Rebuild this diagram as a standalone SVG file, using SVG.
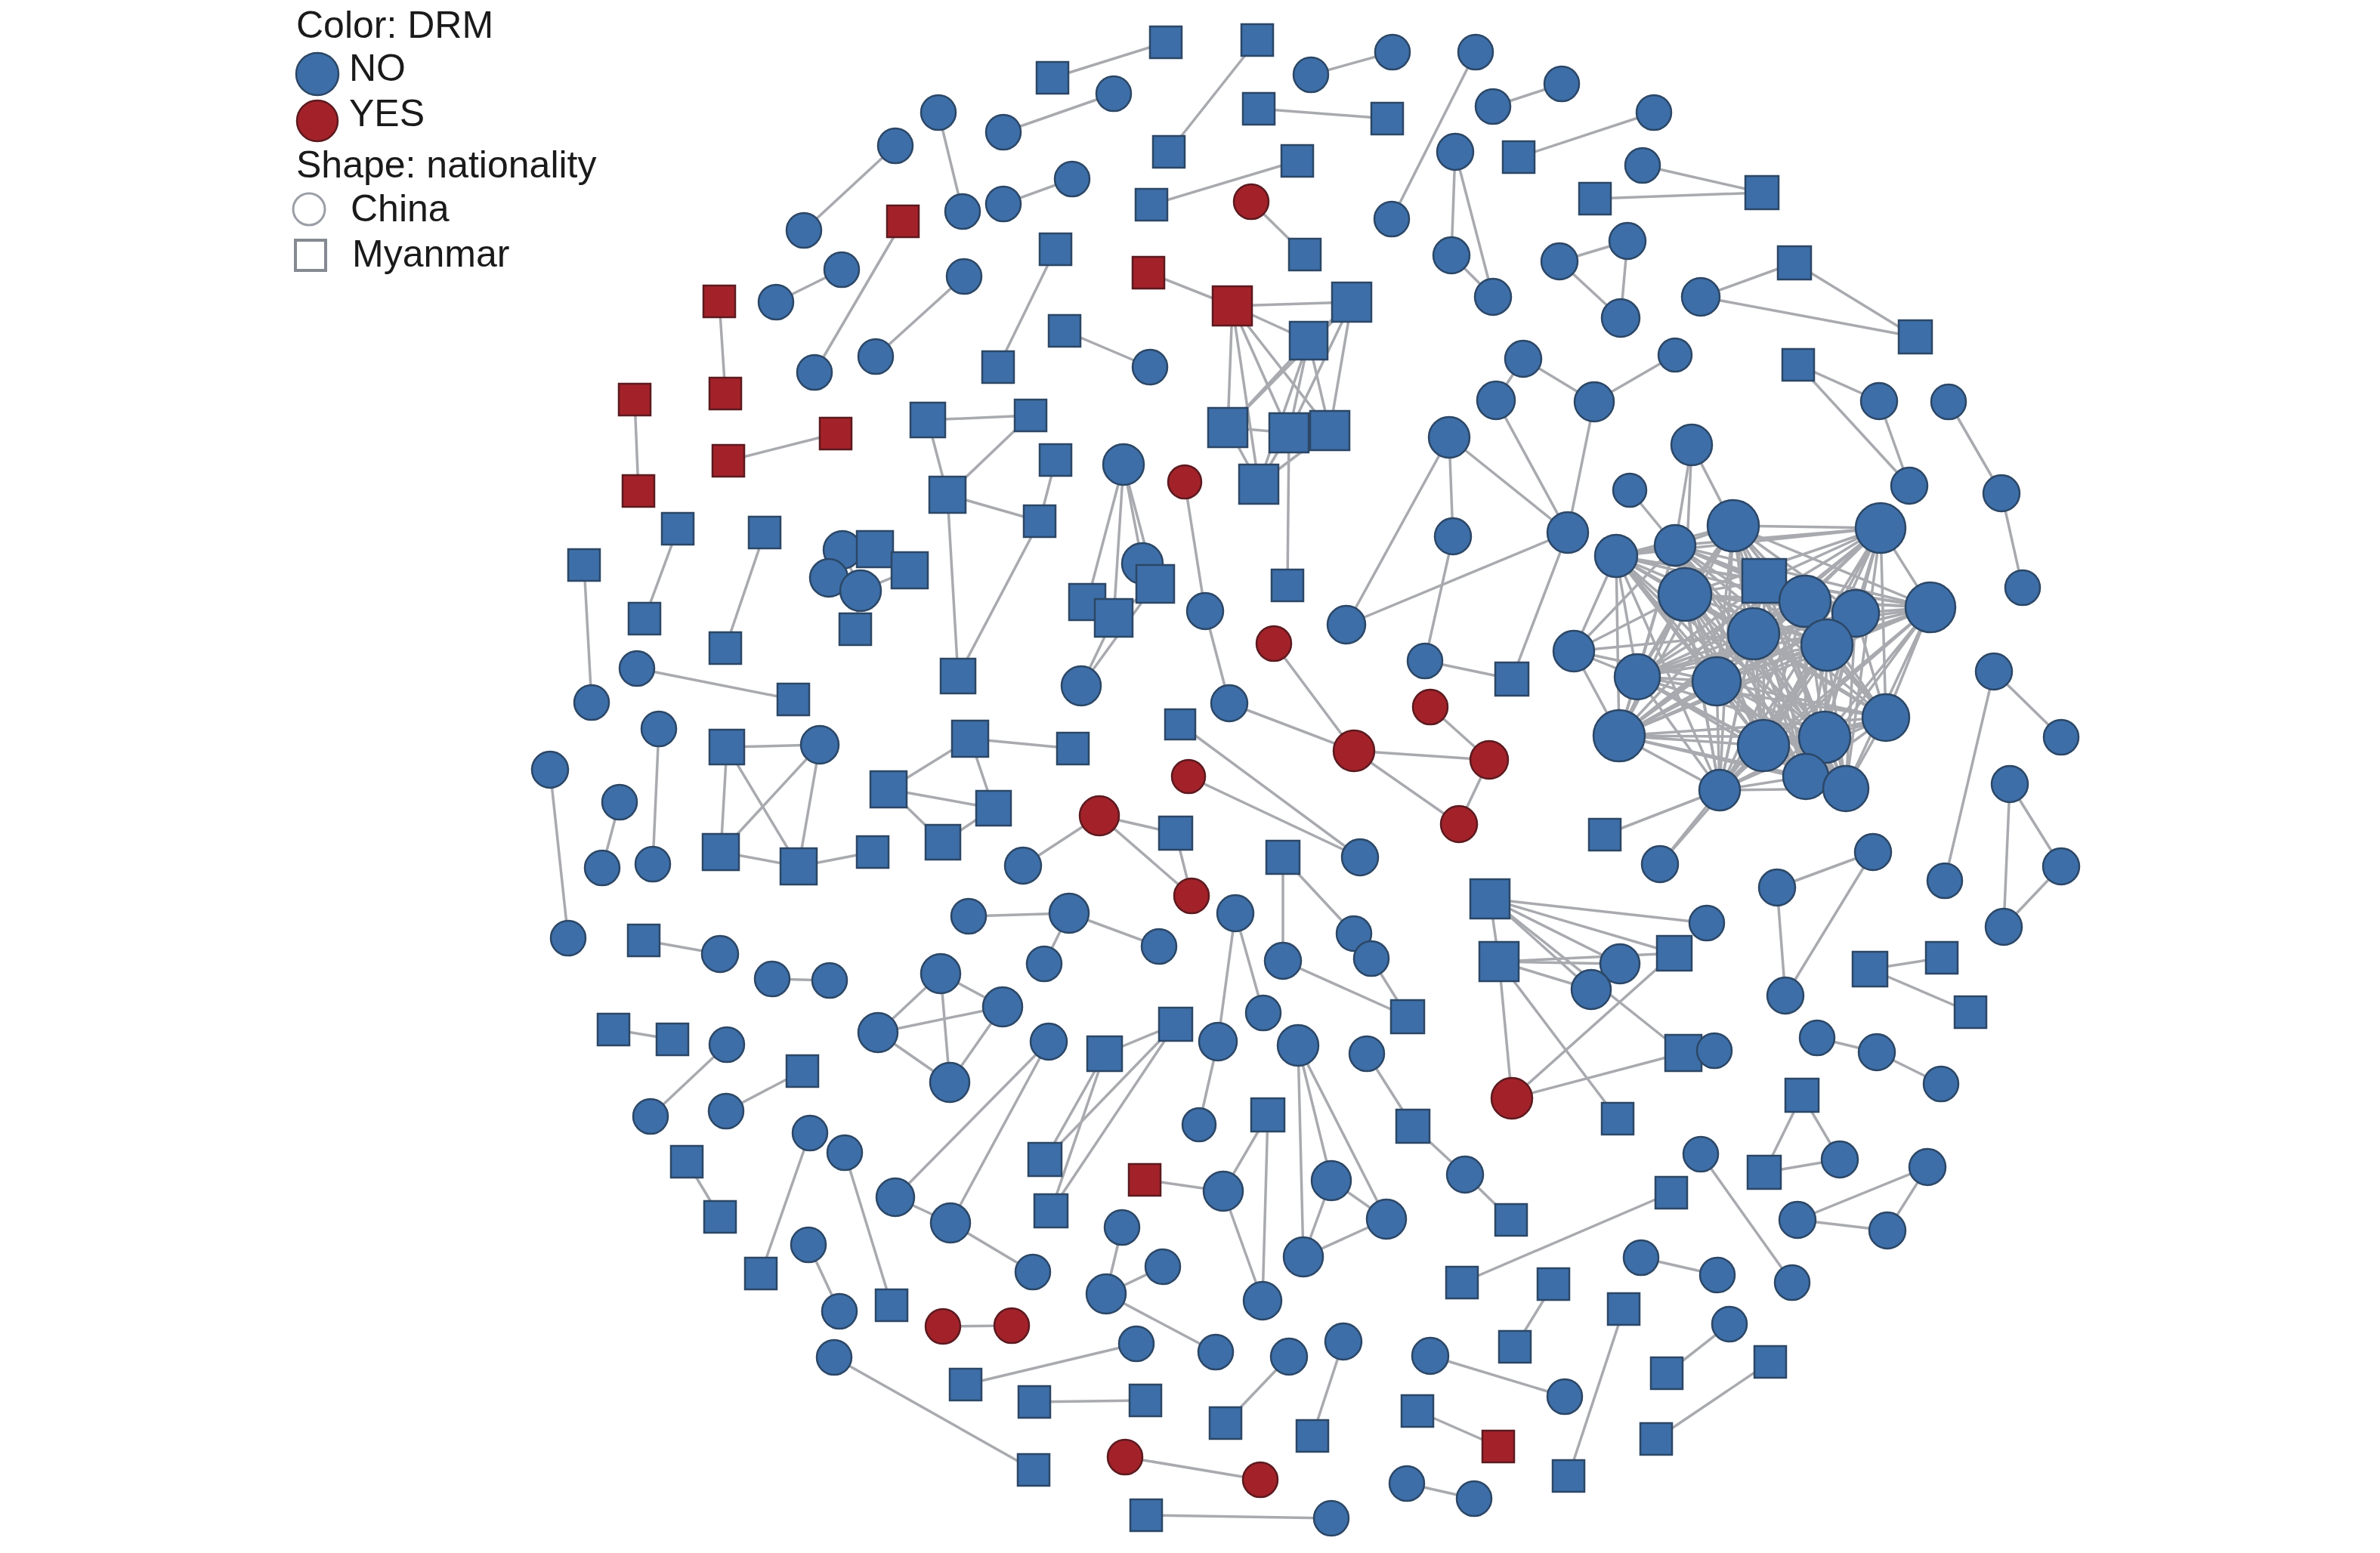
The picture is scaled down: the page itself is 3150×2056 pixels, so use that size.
<svg xmlns="http://www.w3.org/2000/svg" xmlns:xlink="http://www.w3.org/1999/xlink" width="3150" height="2056" viewBox="0 0 3150 2056">
<style>
.b{fill:#3d6ea8;stroke:#2c4766;stroke-width:2.5}
.r{fill:#a3222a;stroke:#5c1a1f;stroke-width:2.5}
#edges line,#edges path{stroke:#a8aaaf;stroke-width:3.5;fill:none;stroke-linecap:round;stroke-linejoin:round}
text{font-family:"Liberation Sans",Arial,sans-serif;font-size:50px;fill:#1a1a1a}
</style>
<defs>
<rect id="s20" x="-20" y="-20" width="40" height="40"/>
<rect id="s21" x="-21" y="-21" width="42" height="42"/>
<rect id="s22" x="-22" y="-22" width="44" height="44"/>
<rect id="s23" x="-23" y="-23" width="46" height="46"/>
<rect id="s24" x="-24" y="-24" width="48" height="48"/>
<rect id="s25" x="-25" y="-25" width="50" height="50"/>
<rect id="s26" x="-26" y="-26" width="52" height="52"/>
<rect id="s29" x="-29" y="-29" width="58" height="58"/>
</defs>
<rect width="3150" height="2056" fill="#fff"/>
<g id="legend">
<text x="392" y="50">Color: DRM</text>
<circle cx="420" cy="98" r="28" class="b"/>
<text x="462" y="107">NO</text>
<circle cx="420" cy="160" r="27" class="r"/>
<text x="462" y="167">YES</text>
<text x="392" y="235">Shape: nationality</text>
<circle cx="409" cy="277" r="21" fill="#fff" stroke="#9a9ea6" stroke-width="3"/>
<text x="464" y="293">China</text>
<rect x="391" y="318" width="40" height="40" fill="#fff" stroke="#858991" stroke-width="4"/>
<text x="466" y="353">Myanmar</text>
</g>
<g id="edges">
<line x1="1242" y1="149" x2="1274" y2="280"/>
<line x1="1185" y1="193" x2="1064" y2="305"/>
<line x1="1114" y1="357" x2="1027" y2="400"/>
<line x1="1195" y1="293" x2="1078" y2="493"/>
<line x1="1276" y1="366" x2="1159" y2="472"/>
<line x1="1321" y1="486" x2="1397" y2="330"/>
<line x1="952" y1="399" x2="960" y2="521"/>
<line x1="840" y1="529" x2="845" y2="650"/>
<line x1="964" y1="610" x2="1106" y2="574"/>
<line x1="1228" y1="556" x2="1364" y2="550"/>
<line x1="1228" y1="556" x2="1254" y2="655"/>
<line x1="1254" y1="655" x2="1364" y2="550"/>
<line x1="1254" y1="655" x2="1376" y2="690"/>
<line x1="1254" y1="655" x2="1268" y2="895"/>
<line x1="1376" y1="690" x2="1268" y2="895"/>
<line x1="1397" y1="609" x2="1376" y2="690"/>
<line x1="1328" y1="175" x2="1474" y2="124"/>
<line x1="1328" y1="270" x2="1419" y2="237"/>
<line x1="1543" y1="56" x2="1393" y2="103"/>
<line x1="1664" y1="53" x2="1547" y2="201"/>
<line x1="1735" y1="99" x2="1843" y2="69"/>
<line x1="1953" y1="69" x2="1842" y2="290"/>
<line x1="1666" y1="144" x2="1836" y2="157"/>
<line x1="1976" y1="141" x2="2067" y2="111"/>
<line x1="1926" y1="201" x2="1921" y2="338"/>
<line x1="1926" y1="201" x2="1976" y2="393"/>
<line x1="1921" y1="338" x2="1976" y2="393"/>
<line x1="2010" y1="208" x2="2189" y2="149"/>
<line x1="1524" y1="271" x2="1717" y2="213"/>
<line x1="1656" y1="267" x2="1727" y2="337"/>
<line x1="1520" y1="361" x2="1631" y2="405"/>
<line x1="1409" y1="438" x2="1522" y2="486"/>
<line x1="1631" y1="405" x2="1789" y2="400"/>
<line x1="1631" y1="405" x2="1732" y2="451"/>
<line x1="1631" y1="405" x2="1625" y2="566"/>
<line x1="1631" y1="405" x2="1706" y2="573"/>
<line x1="1631" y1="405" x2="1760" y2="570"/>
<line x1="1631" y1="405" x2="1666" y2="641"/>
<line x1="1789" y1="400" x2="1732" y2="451"/>
<line x1="1789" y1="400" x2="1625" y2="566"/>
<line x1="1789" y1="400" x2="1706" y2="573"/>
<line x1="1789" y1="400" x2="1760" y2="570"/>
<line x1="1732" y1="451" x2="1625" y2="566"/>
<line x1="1732" y1="451" x2="1706" y2="573"/>
<line x1="1732" y1="451" x2="1760" y2="570"/>
<line x1="1732" y1="451" x2="1666" y2="641"/>
<line x1="1625" y1="566" x2="1706" y2="573"/>
<line x1="1625" y1="566" x2="1666" y2="641"/>
<line x1="1706" y1="573" x2="1666" y2="641"/>
<line x1="1760" y1="570" x2="1666" y2="641"/>
<line x1="1706" y1="573" x2="1760" y2="570"/>
<line x1="1706" y1="573" x2="1704" y2="775"/>
<line x1="1487" y1="615" x2="1512" y2="746"/>
<line x1="1487" y1="615" x2="1529" y2="773"/>
<line x1="1487" y1="615" x2="1439" y2="797"/>
<line x1="1487" y1="615" x2="1474" y2="818"/>
<line x1="1512" y1="746" x2="1529" y2="773"/>
<line x1="1439" y1="797" x2="1474" y2="818"/>
<line x1="1474" y1="818" x2="1529" y2="773"/>
<line x1="1431" y1="908" x2="1474" y2="818"/>
<line x1="1431" y1="908" x2="1529" y2="773"/>
<line x1="1568" y1="638" x2="1595" y2="809"/>
<line x1="1595" y1="809" x2="1627" y2="931"/>
<line x1="1686" y1="852" x2="1792" y2="994"/>
<line x1="1627" y1="931" x2="1792" y2="994"/>
<line x1="1893" y1="936" x2="1971" y2="1006"/>
<line x1="1792" y1="994" x2="1971" y2="1006"/>
<line x1="1792" y1="994" x2="1931" y2="1091"/>
<line x1="1971" y1="1006" x2="1931" y2="1091"/>
<line x1="1562" y1="959" x2="1800" y2="1135"/>
<line x1="1573" y1="1028" x2="1800" y2="1135"/>
<line x1="1455" y1="1080" x2="1556" y2="1103"/>
<line x1="1455" y1="1080" x2="1577" y2="1186"/>
<line x1="1556" y1="1103" x2="1577" y2="1186"/>
<line x1="1455" y1="1080" x2="1354" y2="1146"/>
<line x1="1284" y1="978" x2="1420" y2="991"/>
<line x1="1415" y1="1209" x2="1382" y2="1276"/>
<line x1="1415" y1="1209" x2="1534" y2="1253"/>
<line x1="1415" y1="1209" x2="1282" y2="1213"/>
<line x1="1635" y1="1209" x2="1672" y2="1341"/>
<line x1="1635" y1="1209" x2="1612" y2="1379"/>
<line x1="1612" y1="1379" x2="1587" y2="1489"/>
<line x1="1698" y1="1135" x2="1698" y2="1272"/>
<line x1="1698" y1="1135" x2="1792" y2="1236"/>
<line x1="1698" y1="1272" x2="1863" y2="1346"/>
<line x1="1815" y1="1269" x2="1863" y2="1346"/>
<line x1="1972" y1="1190" x2="1984" y2="1273"/>
<line x1="1972" y1="1190" x2="2259" y2="1222"/>
<line x1="1972" y1="1190" x2="2216" y2="1262"/>
<line x1="1972" y1="1190" x2="2144" y2="1276"/>
<line x1="1972" y1="1190" x2="2106" y2="1310"/>
<line x1="1972" y1="1190" x2="2228" y2="1394"/>
<line x1="1984" y1="1273" x2="2144" y2="1276"/>
<line x1="1984" y1="1273" x2="2106" y2="1310"/>
<line x1="1984" y1="1273" x2="2216" y2="1262"/>
<line x1="1984" y1="1273" x2="2001" y2="1454"/>
<line x1="1984" y1="1273" x2="2141" y2="1481"/>
<line x1="2001" y1="1454" x2="2216" y2="1262"/>
<line x1="2001" y1="1454" x2="2228" y2="1394"/>
<line x1="1918" y1="579" x2="1923" y2="710"/>
<line x1="1918" y1="579" x2="1782" y2="827"/>
<line x1="1918" y1="579" x2="2075" y2="705"/>
<line x1="1923" y1="710" x2="1886" y2="875"/>
<line x1="1886" y1="875" x2="2001" y2="899"/>
<line x1="2001" y1="899" x2="2075" y2="705"/>
<line x1="1782" y1="827" x2="2075" y2="705"/>
<line x1="1980" y1="530" x2="2075" y2="705"/>
<line x1="2110" y1="532" x2="2075" y2="705"/>
<line x1="2016" y1="475" x2="1980" y2="530"/>
<line x1="2016" y1="475" x2="2110" y2="532"/>
<line x1="2217" y1="470" x2="2110" y2="532"/>
<line x1="2174" y1="219" x2="2332" y2="255"/>
<line x1="2111" y1="263" x2="2332" y2="255"/>
<line x1="2064" y1="346" x2="2154" y2="319"/>
<line x1="2064" y1="346" x2="2145" y2="421"/>
<line x1="2154" y1="319" x2="2145" y2="421"/>
<line x1="2375" y1="348" x2="2251" y2="393"/>
<line x1="2375" y1="348" x2="2535" y2="446"/>
<line x1="2251" y1="393" x2="2535" y2="446"/>
<line x1="2380" y1="483" x2="2487" y2="531"/>
<line x1="2380" y1="483" x2="2527" y2="643"/>
<line x1="2487" y1="531" x2="2527" y2="643"/>
<line x1="2579" y1="532" x2="2649" y2="653"/>
<line x1="2649" y1="653" x2="2677" y2="778"/>
<line x1="2639" y1="889" x2="2728" y2="976"/>
<line x1="2639" y1="889" x2="2574" y2="1166"/>
<line x1="2660" y1="1038" x2="2728" y2="1147"/>
<line x1="2660" y1="1038" x2="2652" y2="1227"/>
<line x1="2728" y1="1147" x2="2652" y2="1227"/>
<line x1="2239" y1="589" x2="2217" y2="722"/>
<line x1="2239" y1="589" x2="2294" y2="696"/>
<line x1="2239" y1="589" x2="2230" y2="787"/>
<line x1="2157" y1="649" x2="2217" y2="722"/>
<line x1="2276" y1="1046" x2="2124" y2="1105"/>
<line x1="2197" y1="1144" x2="2276" y2="1046"/>
<line x1="2197" y1="1144" x2="2334" y2="987"/>
<path d="M2139 736L2217 722 2139 736 2294 696 2139 736 2489 699 2139 736 2335 769 2139 736 2230 787 2139 736 2389 796 2139 736 2456 812 2139 736 2555 804 2139 736 2321 839 2139 736 2418 854 2139 736 2167 896 2139 736 2272 902 2139 736 2143 974 2139 736 2496 950 2139 736 2334 987 2139 736 2415 976 2139 736 2390 1028 2139 736 2443 1044 2139 736 2276 1046"/>
<path d="M2217 722L2294 696 2217 722 2489 699 2217 722 2335 769 2217 722 2230 787 2217 722 2389 796 2217 722 2456 812 2217 722 2555 804 2217 722 2321 839 2217 722 2418 854 2217 722 2167 896 2217 722 2272 902 2217 722 2143 974 2217 722 2496 950 2217 722 2334 987 2217 722 2415 976 2217 722 2390 1028 2217 722 2443 1044 2217 722 2276 1046"/>
<path d="M2294 696L2489 699 2294 696 2335 769 2294 696 2230 787 2294 696 2389 796 2294 696 2456 812 2294 696 2555 804 2294 696 2321 839 2294 696 2418 854 2294 696 2167 896 2294 696 2272 902 2294 696 2143 974 2294 696 2496 950 2294 696 2334 987 2294 696 2415 976 2294 696 2390 1028 2294 696 2443 1044 2294 696 2276 1046"/>
<path d="M2489 699L2335 769 2489 699 2230 787 2489 699 2389 796 2489 699 2456 812 2489 699 2555 804 2489 699 2321 839 2489 699 2418 854 2489 699 2167 896 2489 699 2272 902 2489 699 2143 974 2489 699 2496 950 2489 699 2334 987 2489 699 2415 976 2489 699 2390 1028 2489 699 2443 1044 2489 699 2276 1046"/>
<path d="M2335 769L2230 787 2335 769 2389 796 2335 769 2456 812 2335 769 2555 804 2335 769 2321 839 2335 769 2418 854 2335 769 2167 896 2335 769 2272 902 2335 769 2143 974 2335 769 2496 950 2335 769 2334 987 2335 769 2415 976 2335 769 2390 1028 2335 769 2443 1044 2335 769 2276 1046"/>
<path d="M2230 787L2389 796 2230 787 2456 812 2230 787 2555 804 2230 787 2321 839 2230 787 2418 854 2230 787 2167 896 2230 787 2272 902 2230 787 2143 974 2230 787 2496 950 2230 787 2334 987 2230 787 2415 976 2230 787 2390 1028 2230 787 2443 1044 2230 787 2276 1046"/>
<path d="M2389 796L2456 812 2389 796 2555 804 2389 796 2321 839 2389 796 2418 854 2389 796 2167 896 2389 796 2272 902 2389 796 2143 974 2389 796 2496 950 2389 796 2334 987 2389 796 2415 976 2389 796 2390 1028 2389 796 2443 1044 2389 796 2276 1046"/>
<path d="M2456 812L2555 804 2456 812 2321 839 2456 812 2418 854 2456 812 2167 896 2456 812 2272 902 2456 812 2143 974 2456 812 2496 950 2456 812 2334 987 2456 812 2415 976 2456 812 2390 1028 2456 812 2443 1044 2456 812 2276 1046"/>
<path d="M2555 804L2321 839 2555 804 2418 854 2555 804 2167 896 2555 804 2272 902 2555 804 2143 974 2555 804 2496 950 2555 804 2334 987 2555 804 2415 976 2555 804 2390 1028 2555 804 2443 1044 2555 804 2276 1046"/>
<path d="M2321 839L2418 854 2321 839 2167 896 2321 839 2272 902 2321 839 2143 974 2321 839 2496 950 2321 839 2334 987 2321 839 2415 976 2321 839 2390 1028 2321 839 2443 1044 2321 839 2276 1046"/>
<path d="M2418 854L2167 896 2418 854 2272 902 2418 854 2143 974 2418 854 2496 950 2418 854 2334 987 2418 854 2415 976 2418 854 2390 1028 2418 854 2443 1044 2418 854 2276 1046"/>
<path d="M2167 896L2272 902 2167 896 2143 974 2167 896 2496 950 2167 896 2334 987 2167 896 2415 976 2167 896 2390 1028 2167 896 2443 1044 2167 896 2276 1046"/>
<path d="M2272 902L2143 974 2272 902 2496 950 2272 902 2334 987 2272 902 2415 976 2272 902 2390 1028 2272 902 2443 1044 2272 902 2276 1046"/>
<path d="M2143 974L2496 950 2143 974 2334 987 2143 974 2415 976 2143 974 2390 1028 2143 974 2443 1044 2143 974 2276 1046"/>
<path d="M2496 950L2334 987 2496 950 2415 976 2496 950 2390 1028 2496 950 2443 1044 2496 950 2276 1046"/>
<path d="M2334 987L2415 976 2334 987 2390 1028 2334 987 2443 1044 2334 987 2276 1046"/>
<path d="M2415 976L2390 1028 2415 976 2443 1044 2415 976 2276 1046"/>
<path d="M2390 1028L2443 1044 2390 1028 2276 1046M2443 1044L2276 1046"/>
<path d="M2083 862L2139 736 2083 862 2230 787 2083 862 2167 896 2083 862 2143 974 2083 862 2272 902 2083 862 2217 722 2083 862 2321 839"/>
<line x1="2352" y1="1175" x2="2479" y2="1128"/>
<line x1="2352" y1="1175" x2="2363" y2="1318"/>
<line x1="2479" y1="1128" x2="2363" y2="1318"/>
<line x1="2475" y1="1283" x2="2570" y2="1268"/>
<line x1="2475" y1="1283" x2="2608" y2="1340"/>
<line x1="2405" y1="1374" x2="2484" y2="1393"/>
<line x1="2484" y1="1393" x2="2569" y2="1435"/>
<line x1="2385" y1="1450" x2="2335" y2="1552"/>
<line x1="2385" y1="1450" x2="2435" y2="1535"/>
<line x1="2335" y1="1552" x2="2435" y2="1535"/>
<line x1="2251" y1="1528" x2="2372" y2="1698"/>
<line x1="2212" y1="1579" x2="1935" y2="1698"/>
<line x1="2379" y1="1615" x2="2551" y2="1545"/>
<line x1="2379" y1="1615" x2="2498" y2="1629"/>
<line x1="2551" y1="1545" x2="2498" y2="1629"/>
<line x1="2172" y1="1665" x2="2273" y2="1688"/>
<line x1="2149" y1="1733" x2="2076" y2="1954"/>
<line x1="2289" y1="1753" x2="2206" y2="1818"/>
<line x1="2343" y1="1803" x2="2192" y2="1905"/>
<line x1="2071" y1="1849" x2="1893" y2="1795"/>
<line x1="2056" y1="1700" x2="2005" y2="1783"/>
<line x1="897" y1="700" x2="853" y2="819"/>
<line x1="1012" y1="705" x2="960" y2="858"/>
<line x1="773" y1="748" x2="783" y2="930"/>
<line x1="1115" y1="728" x2="1139" y2="782"/>
<line x1="1097" y1="765" x2="1139" y2="782"/>
<line x1="1139" y1="782" x2="1204" y2="755"/>
<line x1="1139" y1="782" x2="1132" y2="833"/>
<line x1="1115" y1="728" x2="1158" y2="727"/>
<line x1="843" y1="885" x2="1050" y2="926"/>
<line x1="872" y1="965" x2="864" y2="1144"/>
<line x1="728" y1="1019" x2="752" y2="1242"/>
<line x1="820" y1="1062" x2="797" y2="1149"/>
<line x1="962" y1="989" x2="1085" y2="986"/>
<line x1="962" y1="989" x2="954" y2="1128"/>
<line x1="962" y1="989" x2="1057" y2="1147"/>
<line x1="1085" y1="986" x2="954" y2="1128"/>
<line x1="1085" y1="986" x2="1057" y2="1147"/>
<line x1="954" y1="1128" x2="1057" y2="1147"/>
<line x1="1057" y1="1147" x2="1155" y2="1128"/>
<line x1="1284" y1="978" x2="1176" y2="1045"/>
<line x1="1284" y1="978" x2="1315" y2="1070"/>
<line x1="1176" y1="1045" x2="1315" y2="1070"/>
<line x1="1176" y1="1045" x2="1248" y2="1115"/>
<line x1="1248" y1="1115" x2="1315" y2="1070"/>
<line x1="852" y1="1245" x2="953" y2="1263"/>
<line x1="1022" y1="1296" x2="1098" y2="1298"/>
<line x1="1245" y1="1289" x2="1327" y2="1333"/>
<line x1="1245" y1="1289" x2="1162" y2="1367"/>
<line x1="1162" y1="1367" x2="1327" y2="1333"/>
<line x1="1245" y1="1289" x2="1257" y2="1433"/>
<line x1="1327" y1="1333" x2="1257" y2="1433"/>
<line x1="1162" y1="1367" x2="1257" y2="1433"/>
<line x1="812" y1="1363" x2="890" y2="1376"/>
<line x1="962" y1="1383" x2="861" y2="1478"/>
<line x1="1062" y1="1418" x2="961" y2="1471"/>
<line x1="909" y1="1538" x2="953" y2="1611"/>
<line x1="1072" y1="1500" x2="1007" y2="1686"/>
<line x1="1118" y1="1526" x2="1180" y2="1728"/>
<line x1="1070" y1="1648" x2="1111" y2="1736"/>
<line x1="1185" y1="1585" x2="1258" y2="1619"/>
<line x1="1185" y1="1585" x2="1388" y2="1379"/>
<line x1="1258" y1="1619" x2="1388" y2="1379"/>
<line x1="1258" y1="1619" x2="1367" y2="1684"/>
<line x1="1104" y1="1797" x2="1368" y2="1946"/>
<line x1="1248" y1="1756" x2="1339" y2="1755"/>
<line x1="1278" y1="1833" x2="1504" y2="1779"/>
<line x1="1462" y1="1395" x2="1556" y2="1356"/>
<line x1="1462" y1="1395" x2="1383" y2="1535"/>
<line x1="1462" y1="1395" x2="1391" y2="1603"/>
<line x1="1556" y1="1356" x2="1383" y2="1535"/>
<line x1="1556" y1="1356" x2="1391" y2="1603"/>
<line x1="1515" y1="1562" x2="1619" y2="1577"/>
<line x1="1678" y1="1476" x2="1619" y2="1577"/>
<line x1="1678" y1="1476" x2="1671" y2="1722"/>
<line x1="1619" y1="1577" x2="1671" y2="1722"/>
<line x1="1718" y1="1384" x2="1725" y2="1664"/>
<line x1="1718" y1="1384" x2="1762" y2="1563"/>
<line x1="1718" y1="1384" x2="1835" y2="1614"/>
<line x1="1762" y1="1563" x2="1835" y2="1614"/>
<line x1="1762" y1="1563" x2="1725" y2="1664"/>
<line x1="1725" y1="1664" x2="1835" y2="1614"/>
<line x1="1809" y1="1395" x2="1870" y2="1491"/>
<line x1="1870" y1="1491" x2="1939" y2="1555"/>
<line x1="1939" y1="1555" x2="2000" y2="1615"/>
<line x1="1485" y1="1625" x2="1464" y2="1713"/>
<line x1="1539" y1="1677" x2="1464" y2="1713"/>
<line x1="1464" y1="1713" x2="1609" y2="1790"/>
<line x1="1369" y1="1856" x2="1516" y2="1854"/>
<line x1="1706" y1="1796" x2="1622" y2="1884"/>
<line x1="1778" y1="1776" x2="1737" y2="1901"/>
<line x1="1876" y1="1868" x2="1983" y2="1915"/>
<line x1="1489" y1="1929" x2="1668" y2="1959"/>
<line x1="1517" y1="2006" x2="1762" y2="2010"/>
<line x1="1862" y1="1964" x2="1951" y2="1984"/>
</g>
<g id="nodes">
<g id="n1"><circle class="b" cx="1242" cy="149" r="23"/></g>
<g id="n2"><circle class="b" cx="1185" cy="193" r="23"/></g>
<g id="n3"><circle class="b" cx="1328" cy="175" r="23"/></g>
<g id="n4"><circle class="b" cx="1274" cy="280" r="23"/></g>
<g id="n5"><circle class="b" cx="1328" cy="270" r="23"/></g>
<g id="n6"><use href="#s21" x="1195" y="293" class="r"/></g>
<g id="n7"><circle class="b" cx="1064" cy="305" r="23"/></g>
<g id="n8"><circle class="b" cx="1114" cy="357" r="23"/></g>
<g id="n9"><circle class="b" cx="1027" cy="400" r="23"/></g>
<g id="n10"><use href="#s21" x="952" y="399" class="r"/></g>
<g id="n11"><circle class="b" cx="1276" cy="366" r="23"/></g>
<g id="n12"><circle class="b" cx="1078" cy="493" r="23"/></g>
<g id="n13"><circle class="b" cx="1159" cy="472" r="23"/></g>
<g id="n14"><use href="#s21" x="1321" y="486" class="b"/></g>
<g id="n15"><use href="#s21" x="840" y="529" class="r"/></g>
<g id="n16"><use href="#s21" x="960" y="521" class="r"/></g>
<g id="n17"><use href="#s21" x="1106" y="574" class="r"/></g>
<g id="n18"><use href="#s21" x="964" y="610" class="r"/></g>
<g id="n19"><use href="#s21" x="845" y="650" class="r"/></g>
<g id="n20"><use href="#s23" x="1228" y="556" class="b"/></g>
<g id="n21"><use href="#s24" x="1254" y="655" class="b"/></g>
<g id="n22"><use href="#s21" x="1543" y="56" class="b"/></g>
<g id="n23"><use href="#s21" x="1393" y="103" class="b"/></g>
<g id="n24"><circle class="b" cx="1474" cy="124" r="23"/></g>
<g id="n25"><use href="#s21" x="1664" y="53" class="b"/></g>
<g id="n26"><use href="#s21" x="1547" y="201" class="b"/></g>
<g id="n27"><circle class="b" cx="1735" cy="99" r="23"/></g>
<g id="n28"><circle class="b" cx="1843" cy="69" r="23"/></g>
<g id="n29"><circle class="b" cx="1953" cy="69" r="23"/></g>
<g id="n30"><circle class="b" cx="1842" cy="290" r="23"/></g>
<g id="n31"><use href="#s21" x="1666" y="144" class="b"/></g>
<g id="n32"><use href="#s21" x="1836" y="157" class="b"/></g>
<g id="n33"><circle class="b" cx="1976" cy="141" r="23"/></g>
<g id="n34"><circle class="b" cx="1926" cy="201" r="24"/></g>
<g id="n35"><use href="#s21" x="2010" y="208" class="b"/></g>
<g id="n36"><circle class="b" cx="1921" cy="338" r="24"/></g>
<g id="n37"><circle class="b" cx="1976" cy="393" r="24"/></g>
<g id="n38"><circle class="b" cx="1419" cy="237" r="23"/></g>
<g id="n39"><use href="#s21" x="1524" y="271" class="b"/></g>
<g id="n40"><use href="#s21" x="1717" y="213" class="b"/></g>
<g id="n41"><circle class="r" cx="1656" cy="267" r="23"/></g>
<g id="n42"><use href="#s21" x="1727" y="337" class="b"/></g>
<g id="n43"><use href="#s21" x="1397" y="330" class="b"/></g>
<g id="n44"><use href="#s21" x="1520" y="361" class="r"/></g>
<g id="n45"><use href="#s26" x="1631" y="405" class="r"/></g>
<g id="n46"><use href="#s26" x="1789" y="400" class="b"/></g>
<g id="n47"><use href="#s25" x="1732" y="451" class="b"/></g>
<g id="n48"><use href="#s21" x="1409" y="438" class="b"/></g>
<g id="n49"><circle class="b" cx="1522" cy="486" r="23"/></g>
<g id="n50"><use href="#s26" x="1625" y="566" class="b"/></g>
<g id="n51"><use href="#s26" x="1706" y="573" class="b"/></g>
<g id="n52"><use href="#s26" x="1760" y="570" class="b"/></g>
<g id="n53"><use href="#s26" x="1666" y="641" class="b"/></g>
<g id="n54"><use href="#s21" x="1364" y="550" class="b"/></g>
<g id="n55"><use href="#s21" x="1397" y="609" class="b"/></g>
<g id="n56"><circle class="b" cx="1487" cy="615" r="27"/></g>
<g id="n57"><circle class="r" cx="1568" cy="638" r="22"/></g>
<g id="n58"><use href="#s21" x="1376" y="690" class="b"/></g>
<g id="n59"><circle class="b" cx="2016" cy="475" r="24"/></g>
<g id="n60"><circle class="b" cx="1980" cy="530" r="25"/></g>
<g id="n61"><circle class="b" cx="1918" cy="579" r="27"/></g>
<g id="n62"><circle class="b" cx="2067" cy="111" r="23"/></g>
<g id="n63"><circle class="b" cx="2189" cy="149" r="23"/></g>
<g id="n64"><circle class="b" cx="2174" cy="219" r="23"/></g>
<g id="n65"><use href="#s21" x="2111" y="263" class="b"/></g>
<g id="n66"><use href="#s22" x="2332" y="255" class="b"/></g>
<g id="n67"><circle class="b" cx="2154" cy="319" r="24"/></g>
<g id="n68"><circle class="b" cx="2064" cy="346" r="24"/></g>
<g id="n69"><circle class="b" cx="2145" cy="421" r="25"/></g>
<g id="n70"><use href="#s22" x="2375" y="348" class="b"/></g>
<g id="n71"><circle class="b" cx="2251" cy="393" r="25"/></g>
<g id="n72"><use href="#s22" x="2535" y="446" class="b"/></g>
<g id="n73"><circle class="b" cx="2217" cy="470" r="22"/></g>
<g id="n74"><circle class="b" cx="2110" cy="532" r="26"/></g>
<g id="n75"><use href="#s21" x="2380" y="483" class="b"/></g>
<g id="n76"><circle class="b" cx="2487" cy="531" r="24"/></g>
<g id="n77"><circle class="b" cx="2527" cy="643" r="24"/></g>
<g id="n78"><circle class="b" cx="2579" cy="532" r="23"/></g>
<g id="n79"><circle class="b" cx="2649" cy="653" r="24"/></g>
<g id="n80"><circle class="b" cx="2677" cy="778" r="23"/></g>
<g id="n81"><circle class="b" cx="2239" cy="589" r="27"/></g>
<g id="n82"><circle class="b" cx="2157" cy="649" r="22"/></g>
<g id="n83"><circle class="b" cx="2075" cy="705" r="27"/></g>
<g id="n84"><circle class="b" cx="2139" cy="736" r="28"/></g>
<g id="n85"><circle class="b" cx="2217" cy="722" r="27"/></g>
<g id="n86"><circle class="b" cx="2294" cy="696" r="34"/></g>
<g id="n87"><circle class="b" cx="2489" cy="699" r="33"/></g>
<g id="n88"><use href="#s29" x="2335" y="769" class="b"/></g>
<g id="n89"><circle class="b" cx="2230" cy="787" r="35"/></g>
<g id="n90"><circle class="b" cx="2389" cy="796" r="34"/></g>
<g id="n91"><circle class="b" cx="2456" cy="812" r="31"/></g>
<g id="n92"><circle class="b" cx="2555" cy="804" r="33"/></g>
<g id="n93"><circle class="b" cx="2321" cy="839" r="34"/></g>
<g id="n94"><circle class="b" cx="2418" cy="854" r="34"/></g>
<g id="n95"><circle class="b" cx="2083" cy="862" r="27"/></g>
<g id="n96"><circle class="b" cx="2167" cy="896" r="30"/></g>
<g id="n97"><circle class="b" cx="2272" cy="902" r="32"/></g>
<g id="n98"><circle class="b" cx="2143" cy="974" r="34"/></g>
<g id="n99"><circle class="b" cx="2496" cy="950" r="31"/></g>
<g id="n100"><circle class="b" cx="2334" cy="987" r="34"/></g>
<g id="n101"><circle class="b" cx="2415" cy="976" r="34"/></g>
<g id="n102"><circle class="b" cx="2390" cy="1028" r="30"/></g>
<g id="n103"><circle class="b" cx="2443" cy="1044" r="30"/></g>
<g id="n104"><circle class="b" cx="2276" cy="1046" r="27"/></g>
<g id="n105"><use href="#s21" x="2124" y="1105" class="b"/></g>
<g id="n106"><circle class="b" cx="2639" cy="889" r="24"/></g>
<g id="n107"><circle class="b" cx="2728" cy="976" r="23"/></g>
<g id="n108"><circle class="b" cx="2660" cy="1038" r="24"/></g>
<g id="n109"><circle class="b" cx="2197" cy="1144" r="24"/></g>
<g id="n110"><circle class="b" cx="2352" cy="1175" r="24"/></g>
<g id="n111"><circle class="b" cx="2479" cy="1128" r="24"/></g>
<g id="n112"><circle class="b" cx="2363" cy="1318" r="24"/></g>
<g id="n113"><circle class="b" cx="2574" cy="1166" r="23"/></g>
<g id="n114"><circle class="b" cx="2728" cy="1147" r="24"/></g>
<g id="n115"><circle class="b" cx="2652" cy="1227" r="24"/></g>
<g id="n116"><circle class="b" cx="2259" cy="1222" r="23"/></g>
<g id="n117"><use href="#s23" x="2216" y="1262" class="b"/></g>
<g id="n118"><circle class="b" cx="2144" cy="1276" r="26"/></g>
<g id="n119"><circle class="b" cx="2106" cy="1310" r="26"/></g>
<g id="n120"><use href="#s24" x="2228" y="1394" class="b"/></g>
<g id="n121"><circle class="b" cx="2269" cy="1391" r="23"/></g>
<g id="n122"><use href="#s21" x="2141" y="1481" class="b"/></g>
<g id="n123"><circle class="b" cx="2405" cy="1374" r="23"/></g>
<g id="n124"><circle class="b" cx="2484" cy="1393" r="24"/></g>
<g id="n125"><circle class="b" cx="2569" cy="1435" r="23"/></g>
<g id="n126"><use href="#s23" x="2475" y="1283" class="b"/></g>
<g id="n127"><use href="#s21" x="2570" y="1268" class="b"/></g>
<g id="n128"><use href="#s21" x="2608" y="1340" class="b"/></g>
<g id="n129"><use href="#s22" x="2385" y="1450" class="b"/></g>
<g id="n130"><use href="#s22" x="2335" y="1552" class="b"/></g>
<g id="n131"><circle class="b" cx="2435" cy="1535" r="24"/></g>
<g id="n132"><circle class="b" cx="2251" cy="1528" r="23"/></g>
<g id="n133"><circle class="b" cx="2372" cy="1698" r="23"/></g>
<g id="n134"><use href="#s21" x="2212" y="1579" class="b"/></g>
<g id="n135"><circle class="b" cx="2379" cy="1615" r="24"/></g>
<g id="n136"><circle class="b" cx="2551" cy="1545" r="24"/></g>
<g id="n137"><circle class="b" cx="2498" cy="1629" r="24"/></g>
<g id="n138"><circle class="b" cx="2172" cy="1665" r="23"/></g>
<g id="n139"><circle class="b" cx="2273" cy="1688" r="23"/></g>
<g id="n140"><use href="#s21" x="2149" y="1733" class="b"/></g>
<g id="n141"><use href="#s21" x="2076" y="1954" class="b"/></g>
<g id="n142"><circle class="b" cx="2289" cy="1753" r="23"/></g>
<g id="n143"><use href="#s21" x="2206" y="1818" class="b"/></g>
<g id="n144"><use href="#s21" x="2343" y="1803" class="b"/></g>
<g id="n145"><use href="#s21" x="2192" y="1905" class="b"/></g>
<g id="n146"><circle class="b" cx="2071" cy="1849" r="23"/></g>
<g id="n147"><use href="#s21" x="2056" y="1700" class="b"/></g>
<g id="n148"><use href="#s21" x="897" y="700" class="b"/></g>
<g id="n149"><use href="#s21" x="853" y="819" class="b"/></g>
<g id="n150"><use href="#s21" x="1012" y="705" class="b"/></g>
<g id="n151"><use href="#s21" x="960" y="858" class="b"/></g>
<g id="n152"><use href="#s21" x="773" y="748" class="b"/></g>
<g id="n153"><circle class="b" cx="783" cy="930" r="23"/></g>
<g id="n154"><circle class="b" cx="1115" cy="728" r="25"/></g>
<g id="n155"><use href="#s24" x="1158" y="727" class="b"/></g>
<g id="n156"><circle class="b" cx="1097" cy="765" r="25"/></g>
<g id="n157"><circle class="b" cx="1139" cy="782" r="27"/></g>
<g id="n158"><use href="#s24" x="1204" y="755" class="b"/></g>
<g id="n159"><use href="#s21" x="1132" y="833" class="b"/></g>
<g id="n160"><use href="#s23" x="1268" y="895" class="b"/></g>
<g id="n161"><circle class="b" cx="843" cy="885" r="23"/></g>
<g id="n162"><use href="#s21" x="1050" y="926" class="b"/></g>
<g id="n163"><circle class="b" cx="872" cy="965" r="23"/></g>
<g id="n164"><circle class="b" cx="864" cy="1144" r="23"/></g>
<g id="n165"><circle class="b" cx="728" cy="1019" r="24"/></g>
<g id="n166"><circle class="b" cx="752" cy="1242" r="23"/></g>
<g id="n167"><circle class="b" cx="820" cy="1062" r="23"/></g>
<g id="n168"><circle class="b" cx="797" cy="1149" r="23"/></g>
<g id="n169"><use href="#s23" x="962" y="989" class="b"/></g>
<g id="n170"><circle class="b" cx="1085" cy="986" r="25"/></g>
<g id="n171"><use href="#s24" x="954" y="1128" class="b"/></g>
<g id="n172"><use href="#s24" x="1057" y="1147" class="b"/></g>
<g id="n173"><use href="#s21" x="1155" y="1128" class="b"/></g>
<g id="n174"><use href="#s24" x="1284" y="978" class="b"/></g>
<g id="n175"><use href="#s24" x="1176" y="1045" class="b"/></g>
<g id="n176"><use href="#s23" x="1315" y="1070" class="b"/></g>
<g id="n177"><use href="#s23" x="1248" y="1115" class="b"/></g>
<g id="n178"><circle class="b" cx="1354" cy="1146" r="24"/></g>
<g id="n179"><circle class="b" cx="1282" cy="1213" r="23"/></g>
<g id="n180"><use href="#s21" x="852" y="1245" class="b"/></g>
<g id="n181"><circle class="b" cx="953" cy="1263" r="24"/></g>
<g id="n182"><circle class="b" cx="1022" cy="1296" r="23"/></g>
<g id="n183"><circle class="b" cx="1098" cy="1298" r="23"/></g>
<g id="n184"><circle class="b" cx="1245" cy="1289" r="26"/></g>
<g id="n185"><circle class="b" cx="1327" cy="1333" r="26"/></g>
<g id="n186"><circle class="b" cx="1162" cy="1367" r="26"/></g>
<g id="n187"><use href="#s21" x="812" y="1363" class="b"/></g>
<g id="n188"><use href="#s21" x="890" y="1376" class="b"/></g>
<g id="n189"><circle class="b" cx="962" cy="1383" r="23"/></g>
<g id="n190"><circle class="b" cx="1512" cy="746" r="27"/></g>
<g id="n191"><use href="#s25" x="1529" y="773" class="b"/></g>
<g id="n192"><use href="#s24" x="1439" y="797" class="b"/></g>
<g id="n193"><use href="#s25" x="1474" y="818" class="b"/></g>
<g id="n194"><circle class="b" cx="1431" cy="908" r="26"/></g>
<g id="n195"><circle class="b" cx="1595" cy="809" r="24"/></g>
<g id="n196"><circle class="b" cx="1627" cy="931" r="24"/></g>
<g id="n197"><use href="#s21" x="1704" y="775" class="b"/></g>
<g id="n198"><circle class="r" cx="1686" cy="852" r="23"/></g>
<g id="n199"><circle class="r" cx="1792" cy="994" r="27"/></g>
<g id="n200"><circle class="r" cx="1893" cy="936" r="23"/></g>
<g id="n201"><circle class="r" cx="1971" cy="1006" r="25"/></g>
<g id="n202"><circle class="r" cx="1931" cy="1091" r="24"/></g>
<g id="n203"><circle class="b" cx="1782" cy="827" r="25"/></g>
<g id="n204"><circle class="b" cx="1923" cy="710" r="24"/></g>
<g id="n205"><circle class="b" cx="1886" cy="875" r="23"/></g>
<g id="n206"><use href="#s22" x="2001" y="899" class="b"/></g>
<g id="n207"><use href="#s20" x="1562" y="959" class="b"/></g>
<g id="n208"><circle class="b" cx="1800" cy="1135" r="24"/></g>
<g id="n209"><circle class="r" cx="1573" cy="1028" r="22"/></g>
<g id="n210"><circle class="r" cx="1455" cy="1080" r="26"/></g>
<g id="n211"><use href="#s22" x="1556" y="1103" class="b"/></g>
<g id="n212"><circle class="r" cx="1577" cy="1186" r="23"/></g>
<g id="n213"><use href="#s21" x="1420" y="991" class="b"/></g>
<g id="n214"><circle class="b" cx="1415" cy="1209" r="26"/></g>
<g id="n215"><circle class="b" cx="1382" cy="1276" r="23"/></g>
<g id="n216"><circle class="b" cx="1534" cy="1253" r="23"/></g>
<g id="n217"><circle class="b" cx="1635" cy="1209" r="24"/></g>
<g id="n218"><circle class="b" cx="1672" cy="1341" r="23"/></g>
<g id="n219"><use href="#s22" x="1698" y="1135" class="b"/></g>
<g id="n220"><circle class="b" cx="1698" cy="1272" r="24"/></g>
<g id="n221"><circle class="b" cx="1792" cy="1236" r="23"/></g>
<g id="n222"><circle class="b" cx="1815" cy="1269" r="23"/></g>
<g id="n223"><use href="#s22" x="1863" y="1346" class="b"/></g>
<g id="n224"><use href="#s26" x="1972" y="1190" class="b"/></g>
<g id="n225"><use href="#s26" x="1984" y="1273" class="b"/></g>
<g id="n226"><circle class="b" cx="1388" cy="1379" r="24"/></g>
<g id="n227"><use href="#s23" x="1462" y="1395" class="b"/></g>
<g id="n228"><use href="#s22" x="1556" y="1356" class="b"/></g>
<g id="n229"><circle class="b" cx="1612" cy="1379" r="25"/></g>
<g id="n230"><circle class="b" cx="1587" cy="1489" r="22"/></g>
<g id="n231"><circle class="b" cx="1718" cy="1384" r="27"/></g>
<g id="n232"><circle class="b" cx="1809" cy="1395" r="23"/></g>
<g id="n233"><use href="#s22" x="1870" y="1491" class="b"/></g>
<g id="n234"><circle class="b" cx="1939" cy="1555" r="24"/></g>
<g id="n235"><use href="#s21" x="2000" y="1615" class="b"/></g>
<g id="n236"><circle class="r" cx="2001" cy="1454" r="27"/></g>
<g id="n237"><use href="#s22" x="1383" y="1535" class="b"/></g>
<g id="n238"><use href="#s22" x="1391" y="1603" class="b"/></g>
<g id="n239"><use href="#s21" x="1515" y="1562" class="r"/></g>
<g id="n240"><circle class="b" cx="1619" cy="1577" r="26"/></g>
<g id="n241"><use href="#s22" x="1678" y="1476" class="b"/></g>
<g id="n242"><circle class="b" cx="1671" cy="1722" r="25"/></g>
<g id="n243"><circle class="b" cx="1762" cy="1563" r="26"/></g>
<g id="n244"><circle class="b" cx="1835" cy="1614" r="26"/></g>
<g id="n245"><circle class="b" cx="1725" cy="1664" r="26"/></g>
<g id="n246"><circle class="b" cx="1485" cy="1625" r="23"/></g>
<g id="n247"><circle class="b" cx="1539" cy="1677" r="23"/></g>
<g id="n248"><circle class="b" cx="1464" cy="1713" r="26"/></g>
<g id="n249"><circle class="b" cx="1367" cy="1684" r="23"/></g>
<g id="n250"><circle class="b" cx="1609" cy="1790" r="23"/></g>
<g id="n251"><circle class="b" cx="1504" cy="1779" r="23"/></g>
<g id="n252"><use href="#s21" x="1369" y="1856" class="b"/></g>
<g id="n253"><use href="#s21" x="1516" y="1854" class="b"/></g>
<g id="n254"><circle class="b" cx="1706" cy="1796" r="24"/></g>
<g id="n255"><use href="#s21" x="1622" y="1884" class="b"/></g>
<g id="n256"><circle class="b" cx="1778" cy="1776" r="24"/></g>
<g id="n257"><use href="#s21" x="1737" y="1901" class="b"/></g>
<g id="n258"><circle class="b" cx="1893" cy="1795" r="24"/></g>
<g id="n259"><use href="#s21" x="1935" y="1698" class="b"/></g>
<g id="n260"><use href="#s21" x="2005" y="1783" class="b"/></g>
<g id="n261"><use href="#s21" x="1876" y="1868" class="b"/></g>
<g id="n262"><use href="#s21" x="1983" y="1915" class="r"/></g>
<g id="n263"><circle class="r" cx="1489" cy="1929" r="23"/></g>
<g id="n264"><circle class="r" cx="1668" cy="1959" r="23"/></g>
<g id="n265"><use href="#s21" x="1517" y="2006" class="b"/></g>
<g id="n266"><circle class="b" cx="1762" cy="2010" r="23"/></g>
<g id="n267"><circle class="b" cx="1862" cy="1964" r="23"/></g>
<g id="n268"><circle class="b" cx="1951" cy="1984" r="23"/></g>
<g id="n269"><use href="#s21" x="1368" y="1946" class="b"/></g>
<g id="n270"><circle class="b" cx="861" cy="1478" r="23"/></g>
<g id="n271"><use href="#s21" x="1062" y="1418" class="b"/></g>
<g id="n272"><circle class="b" cx="961" cy="1471" r="23"/></g>
<g id="n273"><circle class="b" cx="1257" cy="1433" r="26"/></g>
<g id="n274"><circle class="b" cx="1072" cy="1500" r="23"/></g>
<g id="n275"><circle class="b" cx="1118" cy="1526" r="23"/></g>
<g id="n276"><use href="#s21" x="909" y="1538" class="b"/></g>
<g id="n277"><use href="#s21" x="953" y="1611" class="b"/></g>
<g id="n278"><use href="#s21" x="1007" y="1686" class="b"/></g>
<g id="n279"><use href="#s21" x="1180" y="1728" class="b"/></g>
<g id="n280"><circle class="b" cx="1070" cy="1648" r="23"/></g>
<g id="n281"><circle class="b" cx="1111" cy="1736" r="23"/></g>
<g id="n282"><circle class="b" cx="1185" cy="1585" r="25"/></g>
<g id="n283"><circle class="b" cx="1258" cy="1619" r="26"/></g>
<g id="n284"><circle class="b" cx="1104" cy="1797" r="23"/></g>
<g id="n285"><circle class="r" cx="1248" cy="1756" r="23"/></g>
<g id="n286"><circle class="r" cx="1339" cy="1755" r="23"/></g>
<g id="n287"><use href="#s21" x="1278" y="1833" class="b"/></g>
</g>
</svg>
